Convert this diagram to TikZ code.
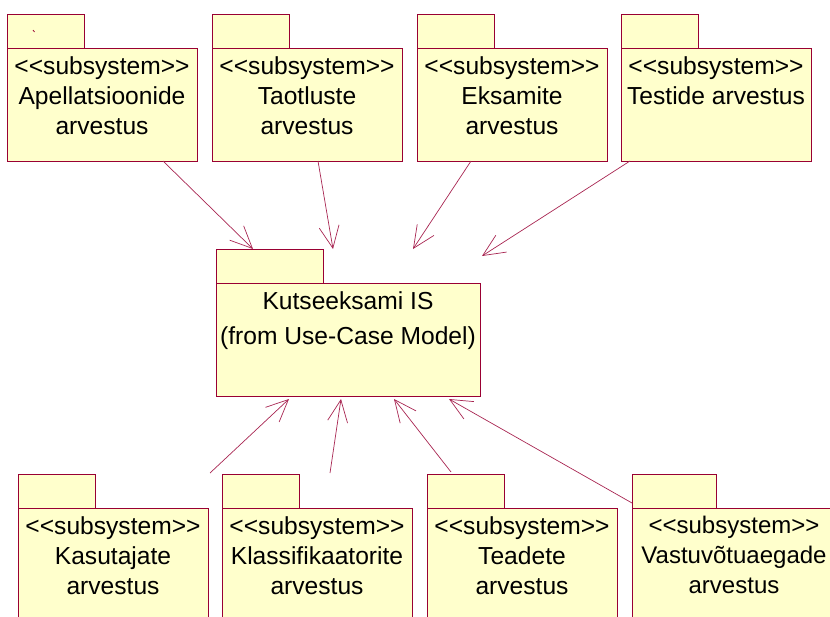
\documentclass[tikz,border=0pt]{standalone}
\usepackage{fontspec}
\setmainfont{Liberation Sans}
\usetikzlibrary{arrows.meta,positioning}
\definecolor{pkgline}{RGB}{153,0,51}
\definecolor{pkgfill}{RGB}{255,255,204}
\newcommand{\stereo}{<{}<subsystem>{}>}
\tikzset{
  pkgbox/.style={draw=pkgline, fill=pkgfill, line width=0.8pt, minimum width=5.7cm, minimum height=3.39cm, inner sep=0pt, outer sep=0pt, anchor=north west},
  pkgtab/.style={draw=pkgline, fill=pkgfill, line width=0.8pt, minimum width=2.31cm, minimum height=1.02cm, inner sep=0pt, outer sep=0pt},
  pkglabel/.style={align=center, inner sep=0pt, font=\fontsize{21}{25.6}\selectfont},
  depend/.style={draw=pkgline!85, line width=0.6pt, -{Straight Barb[length=0.66cm,width=0.6cm]}}
}
\begin{document}
\begin{tikzpicture}[x=0.03cm, y=-0.03cm]
	\useasboundingbox (0,0) rectangle (830,617);
	\clip (-10,-10) rectangle (845,630);
	% top row
	\node[pkgbox] (apel) at (7,48) {};
	\node[pkgtab, above right=0pt of apel.north west] (apeltab) {};
	\node[pkglabel, below=0.25cm of apel.north] (apeltxt) {\stereo\\Apellatsioonide\\arvestus};
	\draw[pkgline, line width=0.6pt] ([shift={(26,-18)}]apeltab.south west) -- ++(1.5,2);
	\node[pkgbox] (taot) at (212,48) {};
	\node[pkgtab, above right=0pt of taot.north west] (taottab) {};
	\node[pkglabel, below=0.25cm of taot.north] (taottxt) {\stereo\\Taotluste\\arvestus};
	\node[pkgbox] (eksa) at (417,48) {};
	\node[pkgtab, above right=0pt of eksa.north west] (eksatab) {};
	\node[pkglabel, below=0.25cm of eksa.north] (eksatxt) {\stereo\\Eksamite\\arvestus};
	\node[pkgbox] (test) at (621,48) {};
	\node[pkgtab, above right=0pt of test.north west] (testtab) {};
	\node[pkglabel, below=0.25cm of test.north] (testtxt) {\stereo\\Testide arvestus};
	% middle
	\node[pkgbox, minimum width=7.92cm] (kis) at (216,283) {};
	\node[pkgtab, minimum width=3.21cm, above right=0pt of kis.north west] (kistab) {};
	\node[pkglabel, font=\fontsize{21}{29.9}\selectfont, below=0.25cm of kis.north] (kistxt) {Kutseeksami IS\\(from Use-Case Model)};
	% bottom row
	\node[pkgbox] (kasu) at (18,508) {};
	\node[pkgtab, above right=0pt of kasu.north west] (kasutab) {};
	\node[pkglabel, below=0.25cm of kasu.north] (kasutxt) {\stereo\\Kasutajate\\arvestus};
	\node[pkgbox] (klas) at (222,508) {};
	\node[pkgtab, above right=0pt of klas.north west] (klastab) {};
	\node[pkglabel, below=0.25cm of klas.north] (klastxt) {\stereo\\Klassifikaatorite\\arvestus};
	\node[pkgbox] (tead) at (427,508) {};
	\node[pkgtab, above right=0pt of tead.north west] (teadtab) {};
	\node[pkglabel, below=0.25cm of tead.north] (teadtxt) {\stereo\\Teadete\\arvestus};
	\node[pkgbox, minimum width=6.12cm] (vast) at (632,508) {};
	\node[pkgtab, minimum width=2.52cm, above right=0pt of vast.north west] (vasttab) {};
	\node[pkglabel, font=\fontsize{20.5}{25.6}\selectfont, below=0.25cm of vast.north] (vasttxt) {\stereo\\Vastuvõtuaegade\\arvestus};
	% dependencies
	\draw[depend] ([shift={(61,0)}]apel.south) -- ([shift={(37,0)}]kistab.north west);
	\draw[depend] ([shift={(11,0)}]taot.south) -- ([shift={(117,0)}]kistab.north west);
	\draw[depend] ([shift={(-41,0)}]eksa.south) -- ([shift={(197,0)}]kistab.north west);
	\draw[depend] ([shift={(-86,0)}]test.south) -- ([shift={(2,-27)}]kis.north east);
	\draw[depend] ([shift={(2,-35)}]kasu.north east) -- ([shift={(73,3)}]kis.south west);
	\draw[depend] ([shift={(13,-35)}]klas.north) -- ([shift={(125,3)}]kis.south west);
	\draw[depend] ([shift={(24,-2)}]teadtab.north west) -- ([shift={(178,3)}]kis.south west);
	\draw[depend] ([shift={(0,-5)}]vast.north west) -- ([shift={(233,3)}]kis.south west);
\end{tikzpicture}
\end{document}
